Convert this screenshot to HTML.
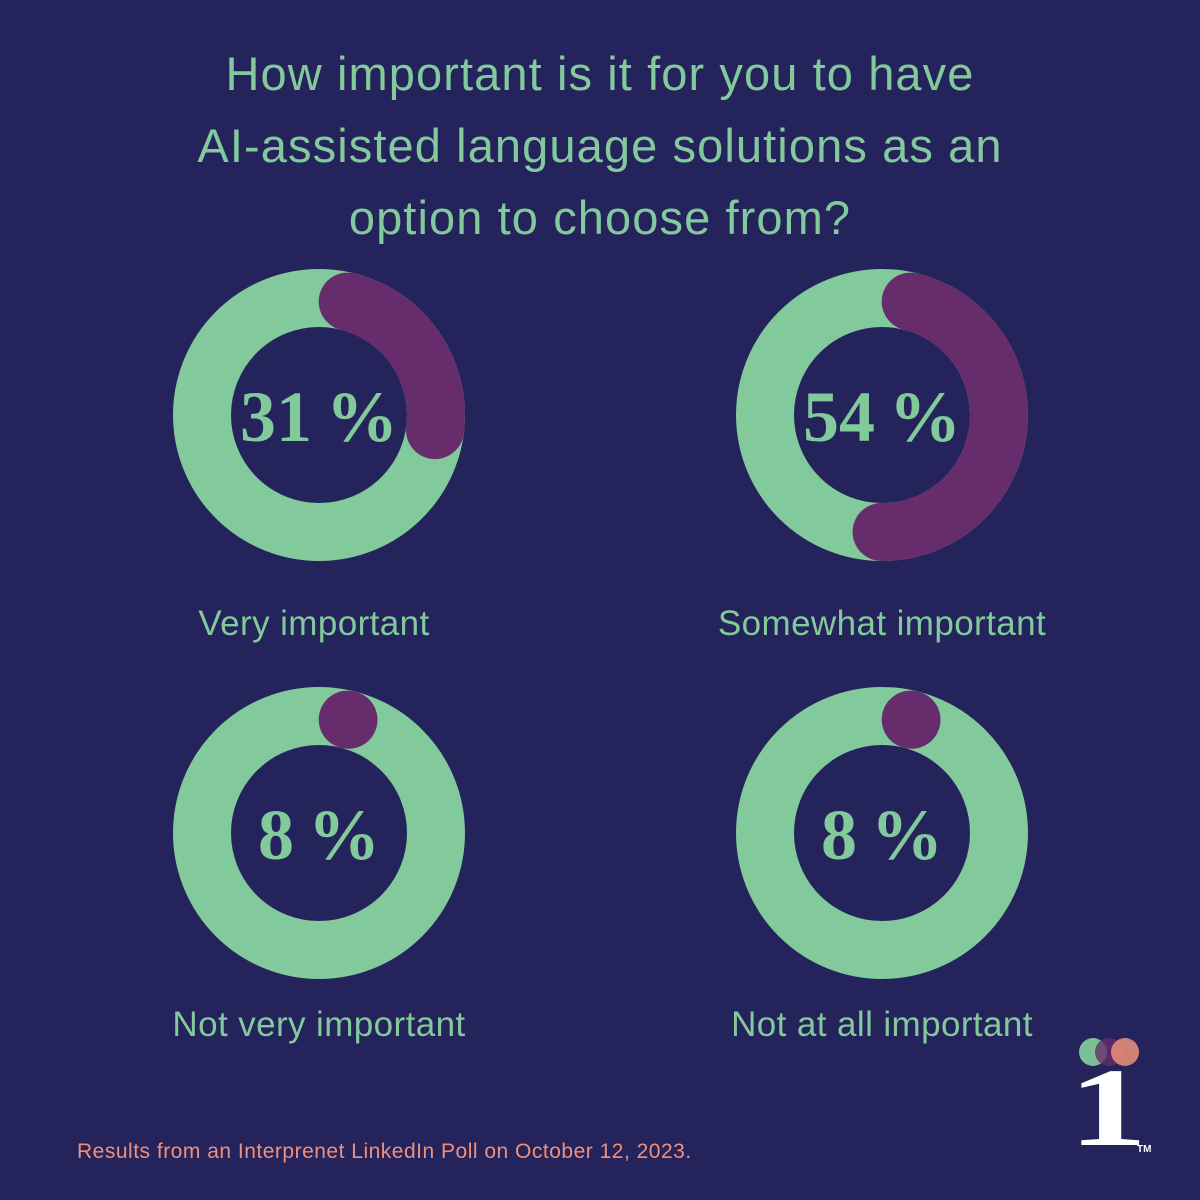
<!DOCTYPE html>
<html><head><meta charset="utf-8"><style>
html,body{margin:0;padding:0;background:#25235b;}
#root{position:relative;width:1200px;height:1200px;background:#25235b;overflow:hidden;font-family:"Liberation Sans",sans-serif;}
.title{position:absolute;left:0;width:1200px;text-align:center;color:#82c99b;font-size:47px;letter-spacing:1.1px;line-height:72px;top:38px;}
.lbl{position:absolute;width:500px;text-align:center;color:#82c99b;font-size:35px;letter-spacing:0.4px;}
.foot{position:absolute;left:77px;top:1140px;color:#f0907a;font-size:21px;letter-spacing:0.5px;}
</style></head><body>
<div id="root">
<div class="title">How important is it for you to have<br>AI-assisted language solutions as an<br>option to choose from?</div>
<svg id="chart" width="1200" height="1200" style="position:absolute;left:0;top:0"></svg>
<div class="lbl" style="left:64px;top:604px">Very important</div>
<div class="lbl" style="left:632px;top:604px">Somewhat important</div>
<div class="lbl" style="left:69px;top:1005px">Not very important</div>
<div class="lbl" style="left:632px;top:1005px">Not at all important</div>
<div class="foot">Results from an Interprenet LinkedIn Poll on October 12, 2023.</div>
<svg width="1200" height="1200" style="position:absolute;left:0;top:0">
<circle cx="1093" cy="1052" r="14" fill="#82c99b" opacity="0.95"/>
<circle cx="1109" cy="1052" r="14" fill="#672c6b" opacity="0.8"/>
<circle cx="1125" cy="1052" r="14" fill="#f0907a" opacity="0.85"/>
<text x="0" y="0" transform="translate(1108 1145) scale(1.4 1)" text-anchor="middle" font-family="Liberation Serif,serif" font-weight="bold" font-size="112" fill="#ffffff">1</text>
<text x="1137" y="1152" font-family="Liberation Sans,sans-serif" font-weight="bold" font-size="10" fill="#ffffff">TM</text>
</svg>
</div>
<script>
const categories=["Very important","Somewhat important","Not very important","Not at all important"];
const values=[31,54,8,8];
const valueLabels=["31 %","54 %","8 %","8 %"];
const svg=document.getElementById('chart');
const NS='http://www.w3.org/2000/svg';
const centers=[[319,415],[882,415],[319,833],[882,833]];
const R=117,W=58,cap=(W/2)/R*180/Math.PI;
function pt(cx,cy,deg){const a=deg*Math.PI/180;return [cx+R*Math.sin(a),cy-R*Math.cos(a)];}
values.forEach((v,i)=>{
 const [cx,cy]=centers[i];
 const g=document.createElementNS(NS,'g');
 
 
 const ring=document.createElementNS(NS,'circle');
 ring.setAttribute('cx',cx);ring.setAttribute('cy',cy);ring.setAttribute('r',R);
 ring.setAttribute('fill','none');ring.setAttribute('stroke','#82c99b');ring.setAttribute('stroke-width',W);
 
 
 g.appendChild(ring);
 const total=v/100*360;
 let s=cap,e=total-cap;
 if(e<s){const m=total/2;s=m;e=m+0.01;}
 const p0=pt(cx,cy,s),p1=pt(cx,cy,e);
 const large=(e-s)>180?1:0;
 const arc=document.createElementNS(NS,'path');
 arc.setAttribute('d',`M${p0[0]} ${p0[1]} A${R} ${R} 0 ${large} 1 ${p1[0]} ${p1[1]}`);
 arc.setAttribute('fill','none');arc.setAttribute('stroke','#672c6b');arc.setAttribute('stroke-width',W);arc.setAttribute('stroke-linecap','round');
 
 
 g.appendChild(arc);
 const t=document.createElementNS(NS,'text');
 t.setAttribute('x',cx);t.setAttribute('y',cy+26);t.setAttribute('text-anchor','middle');
 t.setAttribute('font-family','Liberation Serif,serif');t.setAttribute('font-weight','bold');t.setAttribute('font-size','72');t.setAttribute('fill','#82c99b');
 t.setAttribute('word-spacing','-4');
 t.textContent=valueLabels[i];
 
 
 g.appendChild(t);
 svg.appendChild(g);
});
</script>
</body></html>
